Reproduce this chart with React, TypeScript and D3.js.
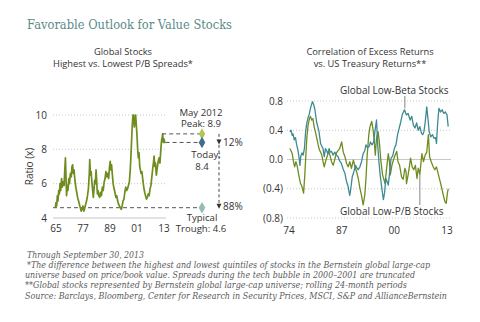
import React from "react";
import * as d3 from "d3";

// ---------- data ----------
const leftTitle = ["Global Stocks", "Highest vs. Lowest P/B Spreads*"];
const rightTitle = ["Correlation of Excess Returns", "vs. US Treasury Returns**"];
const leftYTicks = [4, 6, 8, 10];
const leftXTicks = [1965, 1977, 1989, 2001, 2013];
const rightYTicks = [-0.8, -0.4, 0, 0.4, 0.8];
const rightXTicks = [1974, 1987, 2000, 2013];

const peakValue = 8.9;
const todayValue = 8.4;
const troughValue = 4.6;

// P/B spread ratio [year, ratio]
const spreadSeries: [number, number][] = [
  [1964.7, 4.6], [1965.0, 4.9], [1965.3, 4.7], [1965.6, 5.3], [1965.9, 5.0], [1966.2, 5.6],
  [1966.5, 5.4], [1966.8, 6.0], [1967.1, 5.6], [1967.5, 6.3], [1967.8, 5.8], [1968.2, 6.1],
  [1968.6, 5.9], [1968.9, 6.8], [1969.2, 7.5], [1969.4, 6.6], [1969.7, 5.3], [1970.0, 5.9],
  [1970.3, 5.6], [1970.7, 6.3], [1971.0, 6.0], [1971.4, 6.6], [1971.8, 6.4], [1972.1, 7.0],
  [1972.4, 7.1], [1972.7, 6.6], [1973.0, 6.8], [1973.4, 6.2], [1973.8, 5.8], [1974.2, 5.5],
  [1974.6, 5.2], [1975.0, 5.0], [1975.4, 4.8], [1975.8, 4.6], [1976.2, 4.4], [1976.6, 4.5],
  [1977.0, 4.7], [1977.4, 4.4], [1977.8, 4.6], [1978.2, 4.8], [1978.6, 5.0], [1979.0, 5.3],
  [1979.4, 5.7], [1979.8, 6.6], [1980.0, 7.4], [1980.3, 6.5], [1980.6, 6.7], [1981.0, 6.0],
  [1981.3, 5.6], [1981.6, 5.2], [1981.9, 5.7], [1982.2, 6.2], [1982.5, 6.0], [1982.8, 6.8],
  [1983.1, 6.1], [1983.4, 5.4], [1983.7, 5.6], [1984.0, 5.3], [1984.4, 5.2], [1984.8, 5.5],
  [1985.2, 5.3], [1985.6, 5.8], [1986.0, 5.6], [1986.4, 6.1], [1986.8, 6.3], [1987.2, 6.7],
  [1987.6, 6.4], [1988.0, 6.6], [1988.4, 6.3], [1988.8, 7.0], [1989.1, 7.3], [1989.4, 6.8],
  [1989.7, 7.1], [1990.0, 6.6], [1990.4, 6.0], [1990.8, 5.7], [1991.2, 5.5], [1991.6, 5.2],
  [1992.0, 5.3], [1992.4, 5.0], [1992.8, 4.8], [1993.2, 4.7], [1993.6, 4.6], [1994.0, 4.5],
  [1994.4, 4.7], [1994.8, 5.0], [1995.2, 5.1], [1995.6, 5.5], [1996.0, 5.8], [1996.4, 5.6],
  [1996.8, 5.7], [1997.2, 5.9], [1997.6, 6.1], [1998.0, 6.8], [1998.3, 7.6], [1998.6, 8.5],
  [1998.9, 9.4], [1999.2, 10.0], [1999.5, 10.0], [1999.8, 9.3], [2000.1, 9.6], [2000.4, 10.0],
  [2000.7, 9.4], [2001.0, 8.8], [2001.3, 8.0], [2001.6, 7.5], [2001.9, 7.8], [2002.2, 7.0],
  [2002.5, 6.8], [2002.8, 6.6], [2003.2, 6.7], [2003.6, 6.2], [2004.0, 5.8], [2004.4, 5.5],
  [2004.8, 5.3], [2005.2, 5.1], [2005.6, 5.2], [2006.0, 5.4], [2006.4, 5.3], [2006.8, 5.7],
  [2007.2, 5.9], [2007.6, 6.4], [2008.0, 6.9], [2008.3, 7.2], [2008.6, 7.6], [2008.9, 7.0],
  [2009.2, 7.2], [2009.6, 6.5], [2010.0, 6.9], [2010.4, 7.3], [2010.8, 7.5], [2011.2, 7.2],
  [2011.6, 8.0], [2011.9, 8.5], [2012.2, 8.7], [2012.4, 8.9], [2012.7, 8.4], [2013.0, 8.6],
  [2013.3, 8.4], [2013.7, 8.4],
];

// Correlation, Global Low-Beta Stocks [year, corr]
const lowBetaSeries: [number, number][] = [
  [1974.2, 0.38], [1974.5, 0.40], [1974.8, 0.33], [1975.0, 0.35], [1975.3, 0.27], [1975.6, 0.30],
  [1975.9, 0.20], [1976.2, 0.13], [1976.5, 0.02], [1976.7, -0.08], [1976.9, 0.04], [1977.2, 0.09],
  [1977.5, 0.06], [1977.8, 0.15], [1978.1, 0.38], [1978.4, 0.50], [1978.7, 0.57], [1979.0, 0.62],
  [1979.3, 0.70], [1979.6, 0.76], [1979.8, 0.79], [1980.1, 0.75], [1980.4, 0.68], [1980.8, 0.52],
  [1981.1, 0.45], [1981.4, 0.38], [1981.8, 0.22], [1982.1, 0.18], [1982.4, 0.15], [1982.7, 0.04],
  [1983.0, 0.15], [1983.3, 0.12], [1983.6, 0.08], [1983.9, 0.15], [1984.2, 0.10], [1984.5, 0.11],
  [1984.9, 0.06], [1985.3, 0.10], [1985.7, 0.06], [1986.1, 0.04], [1986.5, -0.02], [1986.9, -0.05],
  [1987.3, -0.12], [1987.8, -0.19], [1988.2, -0.30], [1988.6, -0.37], [1988.8, -0.44], [1989.0, -0.49],
  [1989.3, -0.38], [1989.6, -0.24], [1990.0, -0.17], [1990.4, -0.08], [1990.8, -0.12], [1991.1, -0.14],
  [1991.5, -0.10], [1991.9, -0.03], [1992.3, 0.08], [1992.7, 0.12], [1993.0, 0.20], [1993.4, 0.16],
  [1993.8, 0.18], [1994.1, 0.24], [1994.5, 0.20], [1994.9, 0.24], [1995.2, 0.38], [1995.6, 0.54],
  [1995.9, 0.20], [1996.2, -0.03], [1996.5, -0.21], [1996.9, -0.39], [1997.3, -0.55], [1997.6, -0.45],
  [1997.9, -0.26], [1998.2, -0.30], [1998.5, -0.35], [1998.8, -0.20], [1999.2, 0.02], [1999.6, 0.05],
  [2000.0, 0.15], [2000.4, 0.20], [2000.8, 0.34], [2001.2, 0.43], [2001.6, 0.52], [2002.0, 0.62],
  [2002.5, 0.68], [2003.0, 0.61], [2003.4, 0.63], [2003.9, 0.54], [2004.3, 0.59], [2004.7, 0.47],
  [2005.1, 0.43], [2005.5, 0.50], [2005.9, 0.40], [2006.3, 0.45], [2006.7, 0.36], [2007.0, 0.34],
  [2007.3, 0.38], [2007.6, 0.50], [2008.0, 0.72], [2008.3, 0.56], [2008.6, 0.38], [2009.0, 0.31],
  [2009.4, 0.34], [2009.8, 0.29], [2010.2, 0.30], [2010.4, 0.22], [2010.7, 0.50], [2011.0, 0.70],
  [2011.4, 0.65], [2011.8, 0.68], [2012.2, 0.63], [2012.6, 0.65], [2013.0, 0.61], [2013.3, 0.45],
];

// Correlation, Global Low-P/B Stocks [year, corr]
const lowPBSeries: [number, number][] = [
  [1974.2, 0.15], [1974.5, 0.12], [1974.8, 0.08], [1975.1, -0.03], [1975.4, -0.10], [1975.7, -0.03],
  [1976.0, -0.08], [1976.4, -0.21], [1976.8, -0.32], [1977.2, -0.37], [1977.6, -0.46], [1977.9, -0.21],
  [1978.2, 0.10], [1978.4, 0.29], [1978.7, 0.47], [1979.0, 0.55], [1979.3, 0.59], [1979.6, 0.54],
  [1979.9, 0.56], [1980.2, 0.45], [1980.6, 0.36], [1980.9, 0.28], [1981.2, 0.20], [1981.5, 0.13],
  [1981.8, 0.10], [1982.1, 0.06], [1982.4, -0.03], [1982.7, -0.10], [1983.0, -0.03], [1983.4, 0.04],
  [1983.8, 0.11], [1984.1, 0.06], [1984.5, -0.03], [1984.9, -0.08], [1985.3, 0.00], [1985.7, 0.09],
  [1986.1, 0.12], [1986.5, 0.15], [1987.0, 0.24], [1987.4, 0.10], [1987.8, 0.04], [1988.2, -0.05],
  [1988.6, -0.10], [1989.0, -0.03], [1989.4, -0.12], [1989.9, -0.01], [1990.3, -0.10], [1990.7, -0.17],
  [1991.1, -0.26], [1991.5, -0.39], [1991.9, -0.49], [1992.3, -0.62], [1992.7, -0.49], [1993.0, -0.26],
  [1993.3, 0.06], [1993.7, 0.34], [1994.0, 0.45], [1994.4, 0.52], [1994.7, 0.43], [1995.0, 0.29],
  [1995.3, 0.06], [1995.6, 0.29], [1996.0, 0.38], [1996.3, 0.24], [1996.7, -0.03], [1997.1, -0.21],
  [1997.7, -0.33], [1998.0, -0.17], [1998.5, 0.08], [1998.8, -0.03], [1999.0, -0.21], [1999.4, -0.08],
  [1999.8, 0.00], [2000.2, 0.06], [2000.6, 0.11], [2000.9, -0.03], [2001.3, -0.08], [2001.8, -0.24],
  [2002.2, -0.27], [2002.6, -0.12], [2002.9, -0.17], [2003.0, -0.33], [2003.4, -0.21], [2003.7, -0.10],
  [2004.0, 0.02], [2004.4, -0.10], [2004.8, -0.14], [2005.2, -0.08], [2005.6, -0.26], [2005.9, -0.12],
  [2006.3, -0.20], [2006.8, 0.08], [2007.2, -0.03], [2007.6, 0.06], [2008.0, 0.10], [2008.4, 0.34],
  [2008.7, 0.04], [2009.1, -0.03], [2009.6, -0.10], [2010.0, -0.14], [2010.4, -0.10], [2010.9, -0.21],
  [2011.3, -0.30], [2011.7, -0.39], [2012.1, -0.49], [2012.5, -0.58], [2012.8, -0.60], [2013.1, -0.46],
  [2013.3, -0.40],
];

const asOfNote = "Through September 30, 2013";
const footnotes = [
  "*The difference between the highest and lowest quintiles of stocks in the Bernstein global large-cap",
  "universe based on price/book value. Spreads during the tech bubble in 2000\u20132001 are truncated",
  "**Global stocks represented by Bernstein global large-cap universe; rolling 24-month periods",
  "Source: Barclays, Bloomberg, Center for Research in Security Prices, MSCI, S&P and AllianceBernstein",
];

// ---------- styles ----------
const SANS = "'Open Sans', 'Noto Sans', sans-serif";
const SERIF = "'DejaVu Serif', 'Liberation Serif', serif";
const OLIVE = "#6f8c1f";
const TEAL = "#3d8a92";
const TEXT = "#333";
const NOTE = "#5a5a5a";

// layout of footnote lines (x start, width)
const footX = [27, 25, 25, 25];
const footW = [403, 390, 382, 422];

export default function App() {
  const lx = d3.scaleLinear().domain([1965, 2013]).range([56, 164]);
  const ly = d3.scaleLinear().domain([4, 10]).range([218, 115]);
  const rx = d3.scaleLinear().domain([1974, 2013]).range([289, 447]);
  const ry = d3.scaleLinear().domain([-0.8, 0.8]).range([218, 101]);

  const lLine = d3.line<[number, number]>().x((d) => lx(d[0])).y((d) => ly(Math.min(d[1], 10)));
  const rLine = d3.line<[number, number]>().x((d) => rx(d[0])).y((d) => ry(d[1]));
  const diamond = d3.symbol().type(d3.symbolDiamond).size(38)() as string;

  const lGridX0 = 53, lGridX1 = 166;
  const rGridX0 = 287, rGridX1 = 451;
  const annX = 202;
  const arrowX = 219;

  const fmtR = (v: number) => (v < 0 ? `(${Math.abs(v).toFixed(1)})` : v.toFixed(1));
  const yrLbl = (y: number) => String(y).slice(2);

  return (
    <svg width={480} height={322} style={{ position: "absolute", left: 0, top: 0, background: "#fff" }}>
      <text x={27} y={29} fontFamily={SERIF} fontSize={12.5} fill="#5b8b88" textLength={205} lengthAdjust="spacingAndGlyphs">
        Favorable Outlook for Value Stocks
      </text>

      {/* ---------- LEFT CHART ---------- */}
      {leftTitle.map((t, i) => (
        <text key={t} x={123} y={55 + i * 11.5} textAnchor="middle" fontFamily={SANS} fontSize={9.3} fill={TEXT}>
          {t}
        </text>
      ))}
      {leftYTicks.map((v) => (
        <g key={v}>
          <line x1={lGridX0} x2={lGridX1} y1={ly(v)} y2={ly(v)} stroke="#c8c8c8"
            strokeDasharray={v === 4 ? undefined : "1,2"} strokeWidth={1} />
          <text x={47} y={ly(v) + 3.5} textAnchor="end" fontFamily={SANS} fontSize={10} fill={TEXT}>{v}</text>
        </g>
      ))}
      {leftXTicks.map((y) => (
        <text key={y} x={lx(y)} y={232} textAnchor="middle" fontFamily={SANS} fontSize={10} fill={TEXT}>{yrLbl(y)}</text>
      ))}
      <text transform={`translate(33,${ly(7)}) rotate(-90)`} textAnchor="middle" fontFamily={SANS} fontSize={10} fill={TEXT}>
        Ratio (x)
      </text>

      <line x1={lGridX0} x2={annX - 3} y1={ly(troughValue)} y2={ly(troughValue)} stroke="#555" strokeDasharray="4,3" strokeWidth={1} />
      <path d={lLine(spreadSeries) as string} fill="none" stroke={OLIVE} strokeWidth={1.7} strokeLinejoin="round" />
      <line x1={lx(2012.2)} x2={annX - 3} y1={ly(peakValue)} y2={ly(peakValue)} stroke="#555" strokeDasharray="4,3" strokeWidth={1} />
      <line x1={lx(2013.7)} x2={annX - 3} y1={ly(todayValue)} y2={ly(todayValue)} stroke="#555" strokeDasharray="4,3" strokeWidth={1} />
      <path d={diamond} transform={`translate(${annX},${ly(peakValue)})`} fill="#b4c456" />
      <path d={diamond} transform={`translate(${annX},${ly(todayValue)})`} fill="#3e6d8e" />
      <path d={diamond} transform={`translate(${annX},${ly(troughValue)})`} fill="#92bcb6" />

      <line x1={arrowX} x2={arrowX} y1={ly(peakValue)} y2={ly(troughValue) - 2} stroke="#444" strokeDasharray="3,2.5" strokeWidth={1} />
      <path d={`M${arrowX - 2.5},${ly(todayValue) - 3} L${arrowX + 2.5},${ly(todayValue) - 3} L${arrowX},${ly(todayValue) + 2} Z`} fill="#333" />
      <path d={`M${arrowX - 2.5},${ly(troughValue) - 4} L${arrowX + 2.5},${ly(troughValue) - 4} L${arrowX},${ly(troughValue) + 1} Z`} fill="#333" />
      <text x={223} y={ly(todayValue) + 4} fontFamily={SANS} fontSize={10} fill={TEXT}>12%</text>
      <text x={223} y={ly(troughValue) + 2} fontFamily={SANS} fontSize={10} fill={TEXT}>88%</text>

      <text x={201} y={115.5} textAnchor="middle" fontFamily={SANS} fontSize={9.6} fill={TEXT}>May 2012</text>
      <text x={201} y={127} textAnchor="middle" fontFamily={SANS} fontSize={9.6} fill={TEXT}>{`Peak: ${peakValue}`}</text>
      <text x={206} y={158} textAnchor="middle" fontFamily={SANS} fontSize={9.6} fill={TEXT}>Today:</text>
      <text x={202} y={170} textAnchor="middle" fontFamily={SANS} fontSize={9.6} fill={TEXT}>{todayValue}</text>
      <text x={202} y={220.5} textAnchor="middle" fontFamily={SANS} fontSize={9.6} fill={TEXT}>Typical</text>
      <text x={201} y={232} textAnchor="middle" fontFamily={SANS} fontSize={9.6} fill={TEXT}>{`Trough: ${troughValue}`}</text>

      {/* ---------- RIGHT CHART ---------- */}
      {rightTitle.map((t, i) => (
        <text key={t} x={370} y={55 + i * 11.5} textAnchor="middle" fontFamily={SANS} fontSize={9.3} fill={TEXT}>
          {t}
        </text>
      ))}
      {rightYTicks.map((v) => (
        <g key={v}>
          <line x1={rGridX0} x2={rGridX1} y1={ry(v)} y2={ry(v)} stroke="#c8c8c8"
            strokeDasharray={v === 0 ? undefined : "1,2"} strokeWidth={1} />
          <text x={283} y={ry(v) + 3.5} textAnchor="end" fontFamily={SANS} fontSize={10} fill={TEXT}>{fmtR(v)}</text>
        </g>
      ))}
      {rightXTicks.map((y) => (
        <text key={y} x={rx(y)} y={234} textAnchor="middle" fontFamily={SANS} fontSize={10} fill={TEXT}>{yrLbl(y)}</text>
      ))}
      <path d={rLine(lowPBSeries) as string} fill="none" stroke={OLIVE} strokeWidth={1.3} strokeLinejoin="round" />
      <path d={rLine(lowBetaSeries) as string} fill="none" stroke={TEAL} strokeWidth={1.3} strokeLinejoin="round" />

      <line x1={rx(2002.6)} x2={rx(2002.6)} y1={96} y2={ry(0.7)} stroke="#666" strokeWidth={0.8} />
      <text x={340} y={94} fontFamily={SANS} fontSize={10} fill={TEXT}>Global Low-Beta Stocks</text>
      <line x1={rx(2006.3)} x2={rx(2006.3)} y1={205} y2={ry(-0.2)} stroke="#666" strokeWidth={0.8} />
      <text x={340} y={215} fontFamily={SANS} fontSize={10} fill={TEXT}>Global Low-P/B Stocks</text>

      {/* ---------- FOOTNOTES ---------- */}
      <text x={27} y={258} fontFamily={SERIF} fontStyle="italic" fontSize={8.4} fill={NOTE} textLength={117} lengthAdjust="spacingAndGlyphs">
        {asOfNote}
      </text>
      {footnotes.map((t, i) => (
        <text key={i} x={footX[i]} y={268 + i * 10.2} fontFamily={SERIF} fontStyle="italic" fontSize={8.4} fill={NOTE}
          textLength={footW[i]} lengthAdjust="spacingAndGlyphs">
          {t}
        </text>
      ))}
    </svg>
  );
}
